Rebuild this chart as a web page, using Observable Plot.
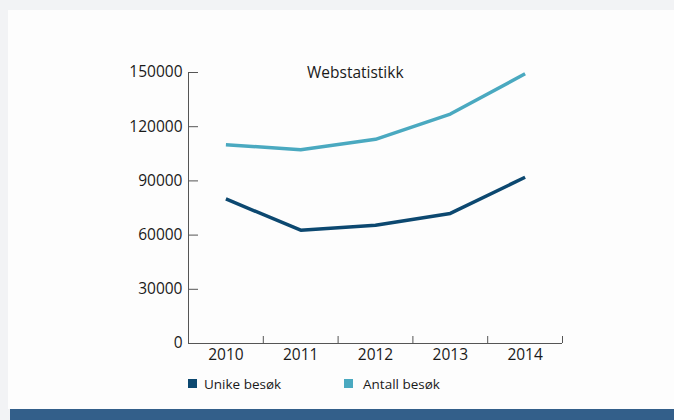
<!DOCTYPE html>
<html>
<head>
<meta charset="utf-8">
<script src="https://cdn.jsdelivr.net/npm/d3@7"></script>
<script src="https://cdn.jsdelivr.net/npm/@observablehq/plot@0.6"></script>
<style>
  html, body { margin: 0; padding: 0; }
  body { width: 674px; height: 420px; background: #f2f3f5; position: relative; overflow: hidden; font-family: "Open Sans", sans-serif; }
  #panel { position: absolute; left: 8px; top: 10px; right: 0; bottom: 11px; background: #fdfdfd; }
  #bar { position: absolute; left: 10px; right: 0; top: 409px; bottom: 0; background: #335f8a; }
  #chart { position: absolute; left: 0; top: 0; }
  #title { position: absolute; left: 307px; top: 61px; font-size: 15.5px; color: #1a1a1a; white-space: nowrap; }
  .leg { position: absolute; top: 375px; font-size: 13.5px; color: #1a1a1a; white-space: nowrap; }
  .sw { position: absolute; width: 9px; height: 9px; top: 379px; }
</style>
</head>
<body>
<div id="panel"></div>
<div id="bar"></div>
<div id="chart"></div>
<div id="title">Webstatistikk</div>
<div class="sw" style="left:188px;background:#0c4870"></div>
<div class="leg" style="left:204px">Unike besøk</div>
<div class="sw" style="left:344px;background:#4aa9c0"></div>
<div class="leg" style="left:363px">Antall besøk</div>
<script>
const years = [2010, 2011, 2012, 2013, 2014];
const unike = [80000, 62700, 65500, 72000, 92000];
const antall = [110000, 107300, 113000, 127000, 149300];
const yTicks = [0, 30000, 60000, 90000, 120000, 150000];
const xBoundaries = [2009.5, 2010.5, 2011.5, 2012.5, 2013.5, 2014.5];
const seriesNames = ["Unike besøk", "Antall besøk"];
const seriesColors = ["#0c4870", "#4aa9c0"];

const data = [];
years.forEach((y, i) => data.push({year: y, value: unike[i], series: seriesNames[0]}));
years.forEach((y, i) => data.push({year: y, value: antall[i], series: seriesNames[1]}));

const W = 674, H = 420;
const mL = 188, mR = 112, mT = 72, mB = 77;
const fw = W - mL - mR, fh = H - mT - mB;

const chart = Plot.plot({
  width: W, height: H,
  marginLeft: mL, marginRight: mR, marginTop: mT, marginBottom: mB,
  style: {background: "transparent", fontFamily: "Open Sans, sans-serif", fontSize: "15.5px", color: "#1a1a1a"},
  x: {type: "linear", domain: [2009.5, 2014.5], axis: null},
  y: {domain: [0, 150000], axis: null},
  color: {domain: seriesNames, range: seriesColors},
  marks: [
    Plot.axisY(yTicks, {label: null, tickSize: 0, tickPadding: 6, tickFormat: d => String(d), fontSize: 15.5, fill: "#1a1a1a"}),
    Plot.axisX(years, {label: null, tickSize: 0, tickPadding: 5, tickFormat: d => String(d), fontSize: 15.5, fill: "#1a1a1a"}),
    Plot.ruleY(yTicks, {y: d => d, insetRight: fw - 10, stroke: "#555", strokeWidth: 1}),
    Plot.ruleX(xBoundaries.slice(1), {x: d => d, insetTop: fh - 7, stroke: "#555", strokeWidth: 1}),
    Plot.ruleX([2009.5], {stroke: "#555", strokeWidth: 1}),
    Plot.ruleY([0], {stroke: "#555", strokeWidth: 1}),
    Plot.line(data, {x: "year", y: "value", z: "series", stroke: "series", strokeWidth: 3.5, strokeLinejoin: "miter", strokeLinecap: "butt"})
  ]
});
document.getElementById("chart").appendChild(chart);
</script>
</body>
</html>
